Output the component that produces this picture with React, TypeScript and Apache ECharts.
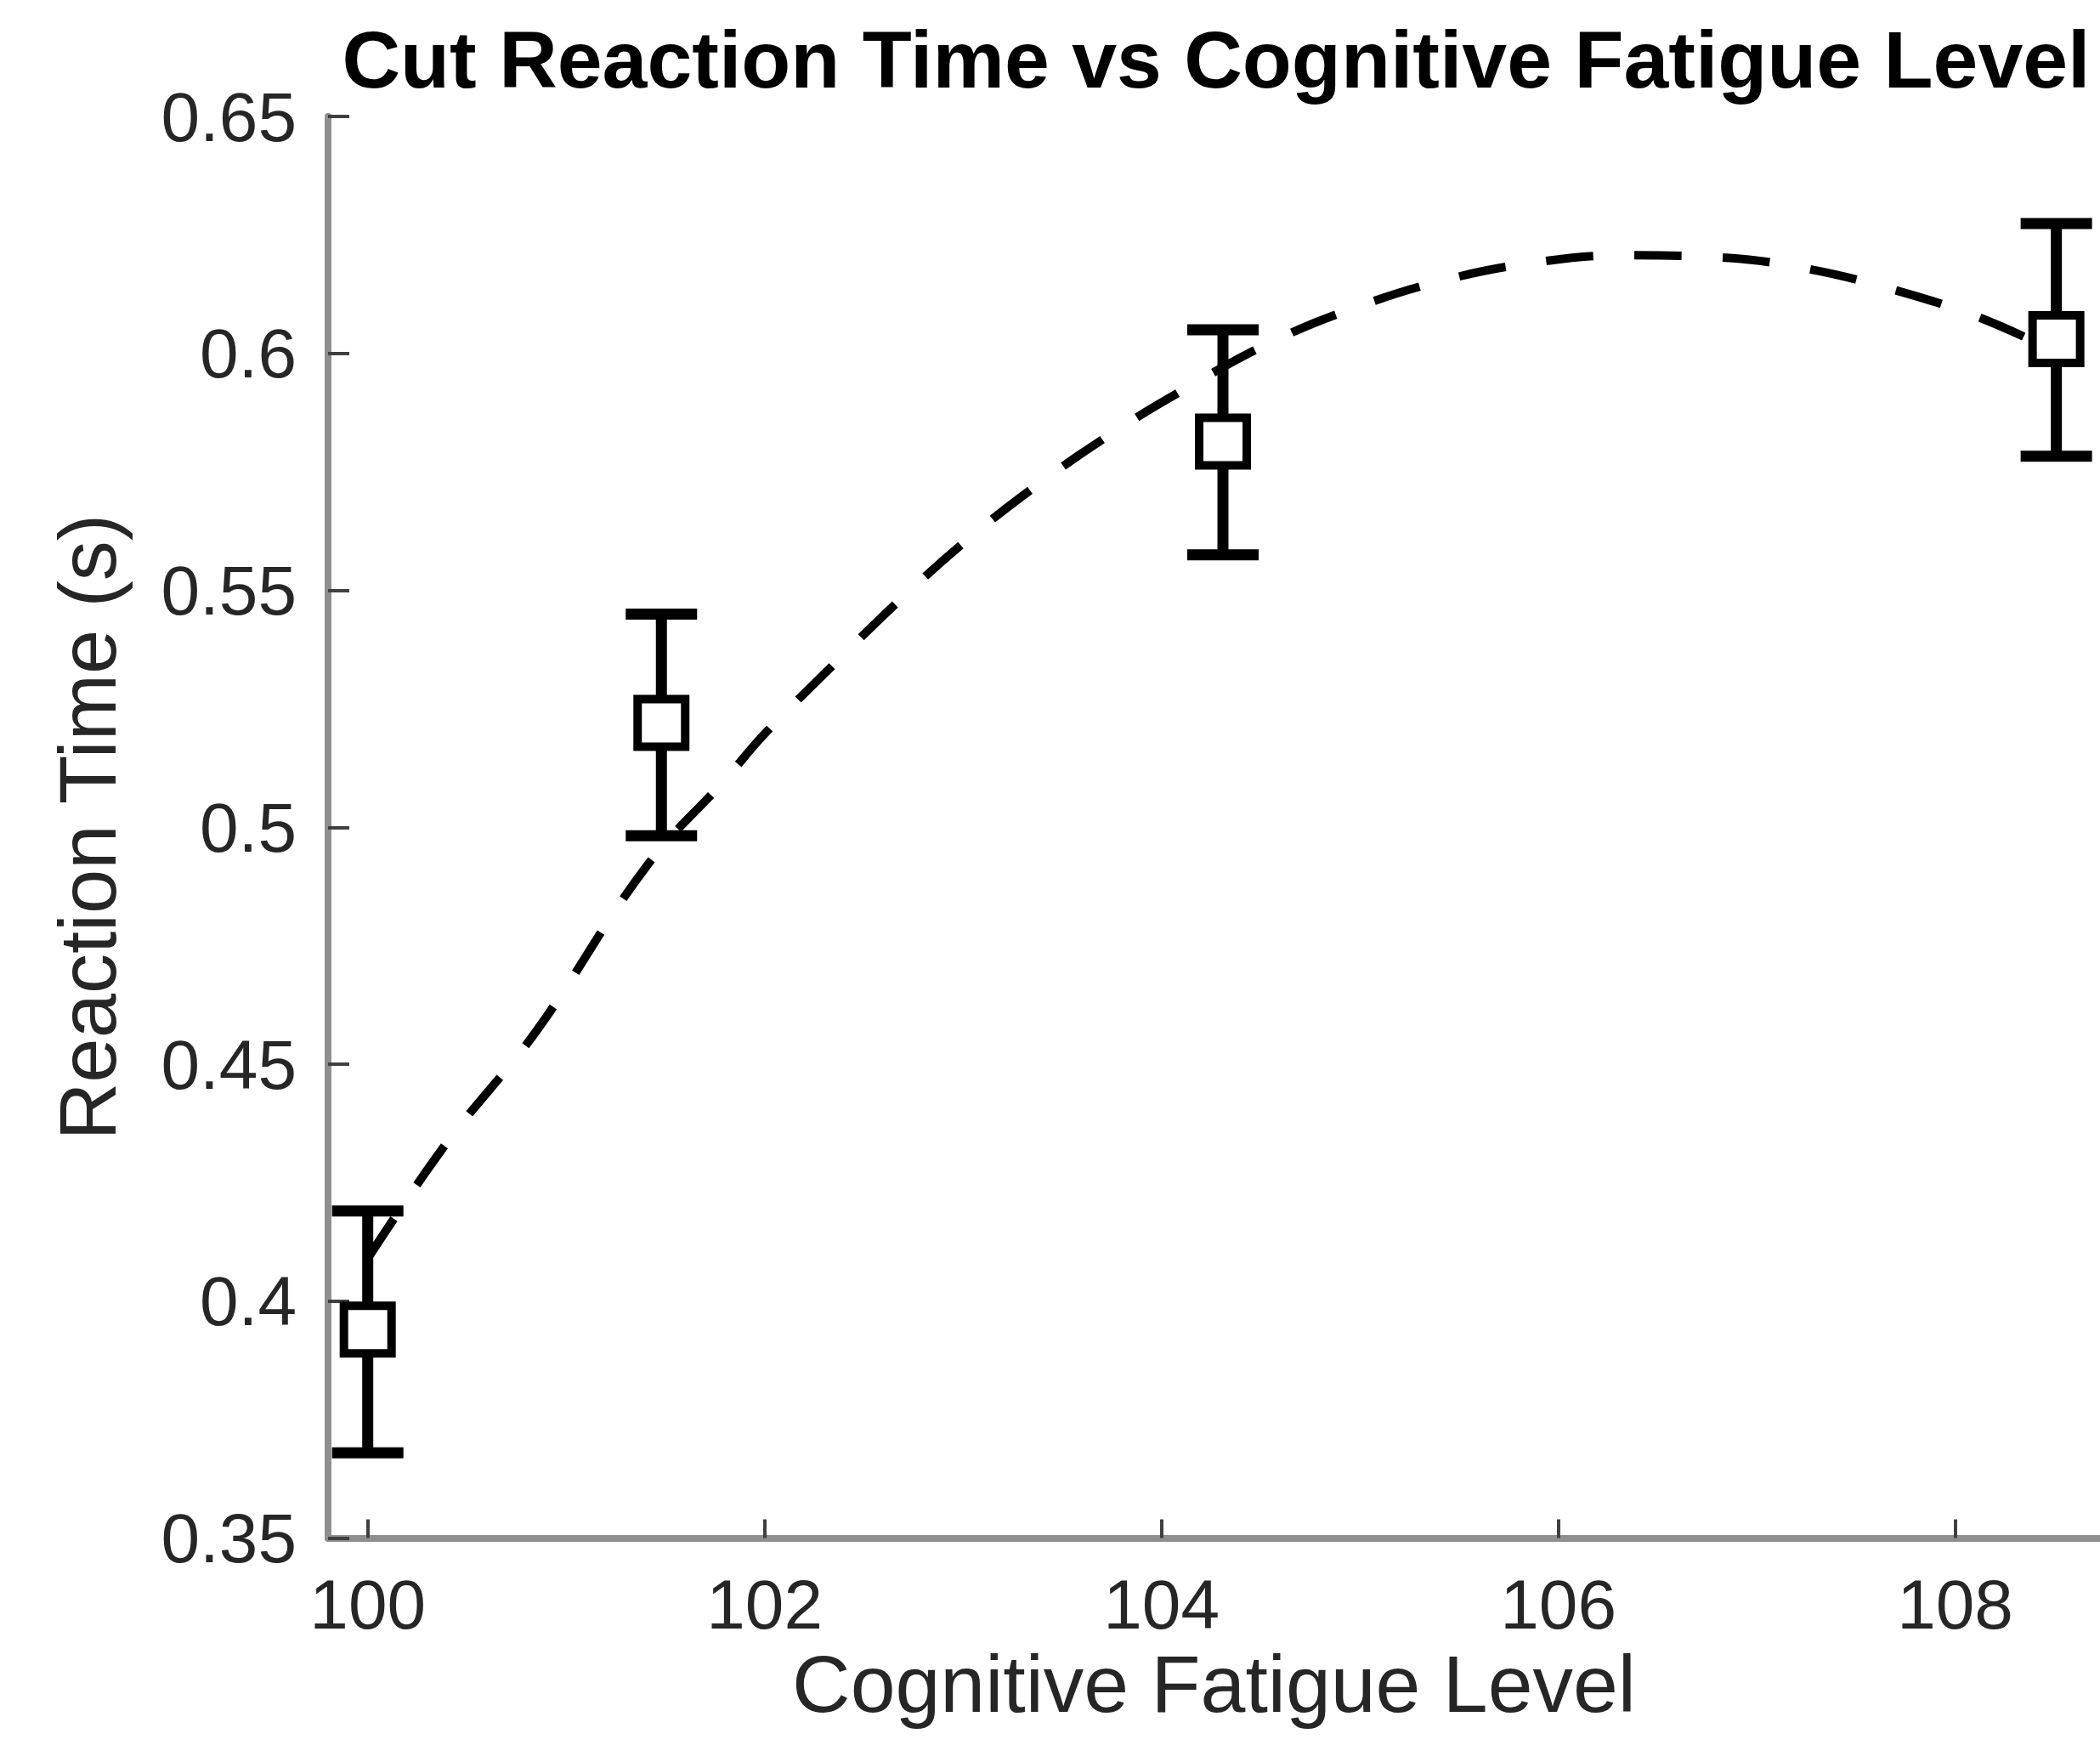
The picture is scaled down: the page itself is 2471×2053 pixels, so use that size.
import { useEffect, useRef } from "react";
import * as echarts from "echarts";

// Measured means and error-bar bounds
const fatigueLevels = [100.0, 101.48, 104.31, 108.51];
const meanReactionTime = [0.394, 0.522, 0.5814, 0.603];
const upperBound = [0.419, 0.545, 0.605, 0.6274];
const lowerBound = [0.368, 0.4982, 0.5575, 0.5783];

// Dashed fit curve
const fitLevels = [100.0, 100.4, 100.85, 101.4, 101.8, 102.0, 102.34, 102.67, 103.02, 103.38, 103.76, 104.11, 104.56, 104.98, 105.42, 105.87, 106.33, 106.8, 107.25, 107.7, 108.12, 108.5];
const fitReactionTime = [0.409, 0.4335, 0.457, 0.4915, 0.51, 0.5197, 0.534, 0.5475, 0.5606, 0.5724, 0.5834, 0.5923, 0.6025, 0.6097, 0.6154, 0.6191, 0.6207, 0.6203, 0.6179, 0.6133, 0.6076, 0.6005];

// Axis ticks
const xTicks = [100, 102, 104, 106, 108];
const yTicks = [0.35, 0.4, 0.45, 0.5, 0.55, 0.6, 0.65];

const titleText = "Cut Reaction Time vs Cognitive Fatigue Level";
const xName = "Cognitive Fatigue Level";
const yName = "Reaction Time (s)";

const FONT = "'Liberation Sans', Arial, Helvetica, sans-serif";

export default function App() {
  const ref = useRef<HTMLDivElement>(null);

  useEffect(() => {
    if (!ref.current) return;
    const chart = echarts.init(ref.current, undefined, { renderer: "svg" });

    const errData = fatigueLevels.map((x, i) => [x, lowerBound[i], upperBound[i]]);
    const meanData = fatigueLevels.map((x, i) => [x, meanReactionTime[i]]);
    const fitData = fitLevels.map((x, i) => [x, fitReactionTime[i]]);

    const axisColor = "#8f8f8f";
    const tickColor = "#404040";
    const labelColor = "#262626";

    chart.setOption({
      animation: false,
      backgroundColor: "#ffffff",
      title: {
        text: titleText,
        left: 1431,
        top: 22,
        padding: 0,
        textAlign: "center",
        textStyle: {
          fontFamily: FONT,
          fontSize: 95,
          fontWeight: "bold",
          color: "#000000",
        },
      },
      grid: {
        left: 386,
        top: 137,
        width: 2085,
        height: 1672.5,
        containLabel: false,
      },
      xAxis: {
        type: "value",
        min: 99.8,
        max: 108.73,
        name: xName,
        nameLocation: "middle",
        nameGap: 104,
        nameTextStyle: { fontFamily: FONT, fontSize: 95, color: labelColor },
        axisLine: { show: true, lineStyle: { color: axisColor, width: 8 } },
        axisTick: {
          show: true,
          inside: true,
          length: 22,
          customValues: xTicks,
          lineStyle: { color: tickColor, width: 4 },
        },
        axisLabel: {
          show: true,
          margin: 37,
          customValues: xTicks,
          fontFamily: FONT,
          fontSize: 82,
          color: labelColor,
          formatter: (v: number) => String(v),
        },
        splitLine: { show: false },
      },
      yAxis: {
        type: "value",
        min: 0.35,
        max: 0.65,
        name: yName,
        nameLocation: "middle",
        nameRotate: 90,
        nameGap: 236,
        nameTextStyle: { fontFamily: FONT, fontSize: 94, color: labelColor },
        axisLine: { show: true, lineStyle: { color: axisColor, width: 8 } },
        axisTick: {
          show: true,
          inside: true,
          length: 25,
          customValues: yTicks,
          lineStyle: { color: tickColor, width: 4 },
        },
        axisLabel: {
          show: true,
          margin: 37,
          customValues: yTicks,
          fontFamily: FONT,
          fontSize: 82,
          color: labelColor,
          formatter: (v: number) => String(Math.round(v * 100) / 100),
        },
        splitLine: { show: false },
      },
      series: [
        {
          type: "custom",
          name: "error",
          z: 2,
          data: errData,
          encode: { x: 0, y: [1, 2] },
          renderItem: (_params: any, api: any) => {
            const x = api.value(0);
            const lo = api.coord([x, api.value(1)]);
            const hi = api.coord([x, api.value(2)]);
            const half = 42;
            const style = { stroke: "#000000", lineWidth: 13, fill: "none" };
            return {
              type: "group",
              children: [
                { type: "line", shape: { x1: lo[0], y1: lo[1], x2: hi[0], y2: hi[1] }, style },
                { type: "line", shape: { x1: hi[0] - half, y1: hi[1], x2: hi[0] + half, y2: hi[1] }, style },
                { type: "line", shape: { x1: lo[0] - half, y1: lo[1], x2: lo[0] + half, y2: lo[1] }, style },
              ],
            };
          },
        },
        {
          type: "scatter",
          name: "mean",
          z: 3,
          data: meanData,
          symbol: "rect",
          symbolSize: 56,
          itemStyle: { color: "#ffffff", borderColor: "#000000", borderWidth: 10, opacity: 1 },
        },
        {
          type: "line",
          name: "fit",
          z: 4,
          data: fitData,
          smooth: 0.4,
          symbol: "none",
          showSymbol: false,
          lineStyle: { color: "#000000", width: 10, type: [56, 48], cap: "butt" },
        },
      ],
    });

    return () => {
      chart.dispose();
    };
  }, []);

  return (
    <div
      ref={ref}
      style={{ position: "absolute", left: 0, top: 0, width: 2471, height: 2053 }}
    />
  );
}
